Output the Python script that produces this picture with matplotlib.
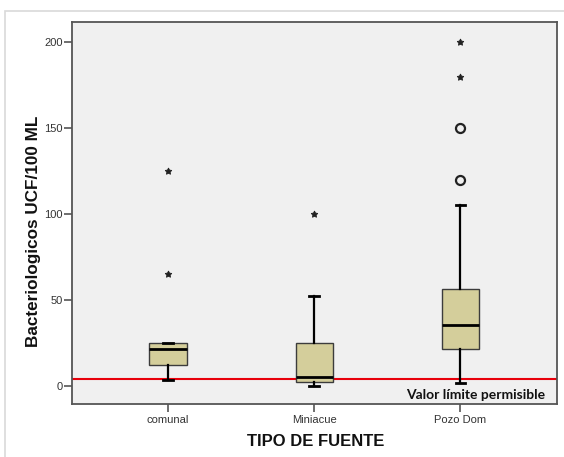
import matplotlib
matplotlib.use("Agg")
import matplotlib.pyplot as plt
from matplotlib.patches import Rectangle

categories = ["comunal", "Miniacue", "Pozo Dom"]
q1 = [12, 2, 21]
median = [21, 5, 35]
q3 = [25, 24.5, 56]
whisker_low = [3.5, 0, 1.5]
whisker_high = [25, 52, 105]
outliers_extreme = [[125, 65], [100], [200, 180]]   # stars
outliers_mild = [[], [], [150, 120]]                 # circles
limit_value = 4
limit_label = "Valor límite permisible"
y_ticks = [0, 50, 100, 150, 200]
x_label = "TIPO DE FUENTE"
y_label = "Bacteriologicos UCF/100 ML"

plt.rcParams['font.family'] = ['Liberation Sans', 'DejaVu Sans']

fig = plt.figure(figsize=(5.64, 4.57), dpi=100)
fig.patch.set_facecolor("white")
# outer light frame
fig.add_artist(Rectangle((4.5 / 564, -0.1), 1.2, 1 - 10.5 / 457 + 0.1,
                         transform=fig.transFigure, fill=False,
                         edgecolor="#d9d9d9", linewidth=1.2))

ax = fig.add_axes([0.1282, 0.1153, 0.8589, 0.8366])
ax.set_facecolor("#f0f0f0")

stats = []
for i, c in enumerate(categories):
    stats.append(dict(label=c, q1=q1[i], med=median[i], q3=q3[i],
                      whislo=whisker_low[i], whishi=whisker_high[i], fliers=[]))

pos = list(range(len(categories)))
ax.bxp(stats, positions=pos, widths=0.255, patch_artist=True, showfliers=False,
       boxprops=dict(facecolor="#d4ce9b", edgecolor="#3c3c3c", linewidth=1.0),
       medianprops=dict(color="black", linewidth=2.0),
       whiskerprops=dict(color="black", linewidth=1.6),
       capprops=dict(color="black", linewidth=2.0),
       capwidths=0.065, zorder=3)

for i in pos:
    if outliers_extreme[i]:
        ax.plot([i] * len(outliers_extreme[i]), outliers_extreme[i], linestyle="none",
                marker=(5, 1, 0), markersize=5, color="#222222", markeredgewidth=0.6, zorder=4)
    if outliers_mild[i]:
        ax.plot([i] * len(outliers_mild[i]), outliers_mild[i], linestyle="none",
                marker="o", markersize=6.5, markerfacecolor="none",
                markeredgecolor="#222222", markeredgewidth=1.6, zorder=4)

ax.axhline(limit_value, color="#e8000b", linewidth=1.5, zorder=2)

ax.set_xlim(-0.655, 2.66)
ax.set_ylim(-10.95, 211.8)
ax.set_yticks(y_ticks)
ax.set_xticks(pos)
ax.set_xticklabels(categories)

for s in ax.spines.values():
    s.set_color("#555555")
    s.set_linewidth(1.3)
ax.tick_params(axis="both", direction="out", length=5.5, width=1.2, color="#555555",
               labelsize=8, labelcolor="#333333")
ax.tick_params(axis="y", pad=1.5)
ax.tick_params(axis="x", pad=2.5)

ax.text(0.976, 0.024, limit_label, transform=ax.transAxes, ha="right", va="center",
        fontsize=10, fontweight="bold", family=["Lato", "DejaVu Sans"], color="#111111")

fig.text(315.5 / 564, 1 - 441.7 / 457, x_label, ha="center", va="center",
         fontsize=12, fontweight="bold", color="#111111")
fig.text(34 / 564, 1 - 231.7 / 457, y_label, ha="center", va="center", rotation=90,
         fontsize=12.3, fontweight="bold", color="#111111")

fig.savefig("out.png", dpi=100)
